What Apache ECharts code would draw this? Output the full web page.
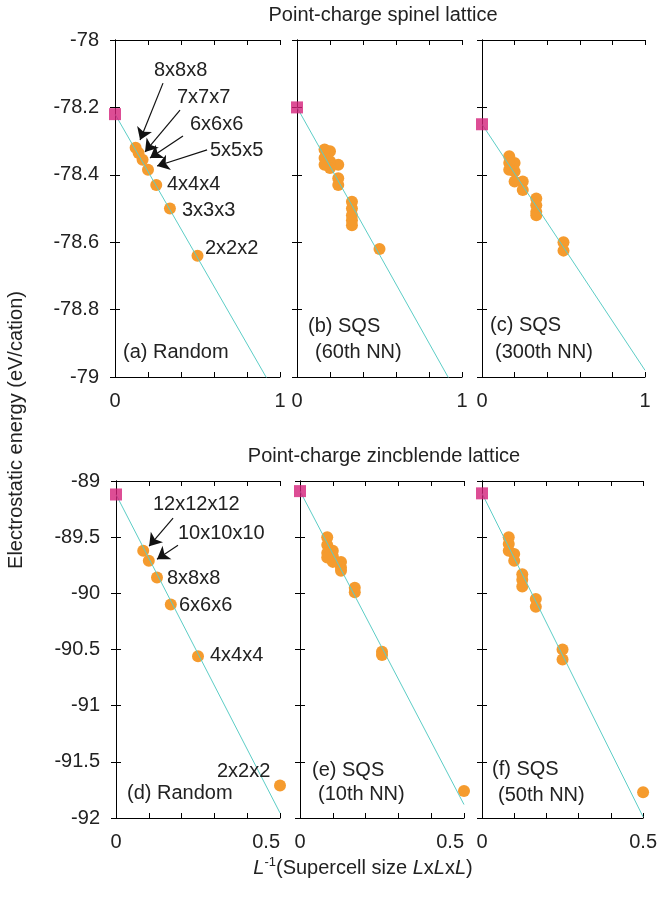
<!DOCTYPE html>
<html>
<head>
<meta charset="utf-8">
<script src="https://cdn.jsdelivr.net/npm/echarts@6/dist/echarts.min.js"></script>
<style>
    html, body { margin: 0; padding: 0; background: #fff; }
    #main { width: 660px; height: 897px; }
</style>
</head>
<body>
<div id="main"></div>
<script>
// ---- spinel lattice (top row), x = 1/L ----
const spinelRandomX = [0.5, 0.333, 0.25, 0.2, 0.167, 0.143, 0.125];
const spinelRandomE = [-78.64, -78.50, -78.43, -78.385, -78.355, -78.335, -78.32];

const sqs60X = [0.5, 0.333, 0.333, 0.333, 0.333, 0.333, 0.25, 0.25, 0.25, 0.2, 0.2, 0.2, 0.167, 0.167, 0.167];
const sqs60E = [-78.62, -78.48, -78.50, -78.52, -78.535, -78.55, -78.37, -78.41, -78.43, -78.33, -78.36, -78.38, -78.325, -78.35, -78.37];

const sqs300X = [0.5, 0.5, 0.333, 0.333, 0.333, 0.333, 0.25, 0.25, 0.2, 0.2, 0.2, 0.167, 0.167, 0.167];
const sqs300E = [-78.60, -78.625, -78.47, -78.49, -78.51, -78.52, -78.42, -78.445, -78.365, -78.39, -78.42, -78.345, -78.365, -78.385];

// infinite-size limit (x = 0) and fit line end points
const spinelLimitE = [-78.22, -78.2, -78.25];
const spinelFitEnd = [-79.072, -79.074, -78.98];

// ---- zincblende lattice (bottom row) ----
const zbRandomX = [0.5, 0.25, 0.167, 0.125, 0.1, 0.083];
const zbRandomE = [-91.71, -90.56, -90.10, -89.86, -89.71, -89.62];

const sqs10X = [0.5, 0.25, 0.25, 0.167, 0.167, 0.125, 0.125, 0.125, 0.1, 0.1, 0.1, 0.083, 0.083, 0.083, 0.083];
const sqs10E = [-91.76, -90.52, -90.55, -89.95, -89.99, -89.72, -89.77, -89.80, -89.62, -89.67, -89.72, -89.50, -89.57, -89.64, -89.68];

const sqs50X = [0.5, 0.25, 0.25, 0.167, 0.167, 0.125, 0.125, 0.125, 0.1, 0.1, 0.083, 0.083, 0.083];
const sqs50E = [-91.77, -90.50, -90.59, -90.05, -90.12, -89.83, -89.88, -89.94, -89.65, -89.71, -89.50, -89.56, -89.62];

const zbLimitE = [-89.12, -89.09, -89.11];
const zbFitEnd = [-91.955, -91.88, -91.99];

const FONT = '"Liberation Sans", Arial, Helvetica, sans-serif';
const ORANGE = '#f59b2e';
const MAGENTA = '#d4207a';
const TEAL = '#5ccdc6';

function pairs(xs, ys) {
    return xs.map(function (x, i) { return [x, ys[i]]; });
}

var chart = echarts.init(document.getElementById('main'), null, { renderer: 'canvas' });

var grids = [
    { left: 115, top: 40, width: 165, height: 337 },
    { left: 297, top: 40, width: 165, height: 337 },
    { left: 482, top: 40, width: 163, height: 337 },
    { left: 116, top: 481, width: 164, height: 337 },
    { left: 300, top: 481, width: 164, height: 337 },
    { left: 482, top: 481, width: 164, height: 337 }
];

var xAxes = [];
var yAxes = [];

function addAxes(gi, xMax, xStep, yMin, yMax, yStep, showY, alignRight) {
    var line = { lineStyle: { color: '#000', width: 1 } };
    var tick = { inside: true, length: 5, lineStyle: { color: '#000', width: 1 } };
    xAxes.push({
        gridIndex: gi, type: 'value', min: 0, max: xMax, interval: xStep, position: 'bottom',
        axisLine: line, axisTick: tick, splitLine: { show: false },
        axisLabel: {
            fontSize: 20, fontFamily: FONT, color: '#222', margin: 14,
            alignMaxLabel: alignRight ? 'right' : null,
            formatter: function (v) {
                if (Math.abs(v) < 1e-9) return '0';
                if (Math.abs(v - xMax) < 1e-9) return String(xMax);
                return '';
            }
        }
    });
    xAxes.push({
        gridIndex: gi, type: 'value', min: 0, max: xMax, interval: xStep, position: 'top',
        axisLine: line, axisTick: tick, splitLine: { show: false }, axisLabel: { show: false }
    });
    yAxes.push({
        gridIndex: gi, type: 'value', min: yMin, max: yMax, interval: yStep, position: 'left',
        axisLine: line, axisTick: tick, splitLine: { show: false },
        axisLabel: { show: showY, fontSize: 20, fontFamily: FONT, color: '#222', margin: 16 }
    });
    yAxes.push({
        gridIndex: gi, type: 'value', min: yMin, max: yMax, interval: yStep, position: 'right',
        axisLine: line, axisTick: tick, splitLine: { show: false }, axisLabel: { show: false }
    });
}

addAxes(0, 1, 0.2, -79, -78, 0.2, true, false);
addAxes(1, 1, 0.2, -79, -78, 0.2, false, false);
addAxes(2, 1, 0.2, -79, -78, 0.2, false, false);
addAxes(3, 0.5, 0.1, -92, -89, 0.5, true, true);
addAxes(4, 0.5, 0.1, -92, -89, 0.5, false, true);
addAxes(5, 0.5, 0.1, -92, -89, 0.5, false, false);

var series = [];

function addPanel(gi, xs, es, limitE, fitX, fitEnd, arrows) {
    var ax = gi * 2;
    var ay = gi * 2;
    series.push({
        type: 'scatter', xAxisIndex: ax, yAxisIndex: ay,
        data: pairs(xs, es), symbol: 'circle', symbolSize: 12,
        itemStyle: { color: ORANGE, opacity: 1 }, z: 2, clip: false,
        markLine: arrows ? {
            silent: true, symbol: ['none', 'arrow'], symbolSize: 12,
            label: { show: false }, animation: false,
            itemStyle: { color: '#111' },
            lineStyle: { color: '#111', width: 1.2, type: 'solid' },
            data: arrows.map(function (a) { return [{ coord: a[0] }, { coord: a[1] }]; })
        } : undefined
    });
    series.push({
        type: 'line', xAxisIndex: ax, yAxisIndex: ay,
        data: [[0, limitE], [fitX, fitEnd]], showSymbol: false, symbol: 'none',
        lineStyle: { color: TEAL, width: 1 }, z: 3, clip: true
    });
    series.push({
        type: 'scatter', xAxisIndex: ax, yAxisIndex: ay,
        data: [[0, limitE]], symbol: 'rect', symbolSize: 12,
        itemStyle: { color: MAGENTA }, z: 4, clip: false
    });
}

// arrows point from the size labels to the points (data coords)
var spinelArrows = [
    [[0.291, -78.128], [0.152, -78.297]],
    [[0.394, -78.208], [0.182, -78.332]],
    [[0.412, -78.285], [0.212, -78.350]],
    [[0.558, -78.326], [0.255, -78.374]]
];
var zbArrows = [
    [[0.174, -89.33], [0.101, -89.58]],
    [[0.189, -89.571], [0.125, -89.696]]
];

addPanel(0, spinelRandomX, spinelRandomE, spinelLimitE[0], 1, spinelFitEnd[0], spinelArrows);
addPanel(1, sqs60X, sqs60E, spinelLimitE[1], 1, spinelFitEnd[1]);
addPanel(2, sqs300X, sqs300E, spinelLimitE[2], 1, spinelFitEnd[2]);
addPanel(3, zbRandomX, zbRandomE, zbLimitE[0], 0.5, zbFitEnd[0], zbArrows);
addPanel(4, sqs10X, sqs10E, zbLimitE[1], 0.5, zbFitEnd[1]);
addPanel(5, sqs50X, sqs50E, zbLimitE[2], 0.5, zbFitEnd[2]);

function txt(s, x, y, align) {
    return {
        type: 'text', x: x, y: y, z: 10,
        style: { text: s, font: '20px ' + FONT, fill: '#222', align: align || 'left', verticalAlign: 'middle' }
    };
}

var graphics = [
    txt('Point-charge spinel lattice', 383, 15, 'center'),
    txt('Point-charge zincblende lattice', 384, 456, 'center'),
    txt('8x8x8', 154, 70), txt('7x7x7', 177, 97), txt('6x6x6', 190, 124), txt('5x5x5', 210, 150),
    txt('4x4x4', 167, 184), txt('3x3x3', 182, 210), txt('2x2x2', 205, 248),
    txt('(a) Random', 123, 352),
    txt('(b) SQS', 308, 326), txt('(60th NN)', 315, 352),
    txt('(c) SQS', 490, 325), txt('(300th NN)', 495, 352),
    txt('12x12x12', 153, 504), txt('10x10x10', 178, 533), txt('8x8x8', 167, 578),
    txt('6x6x6', 179, 605), txt('4x4x4', 210, 655), txt('2x2x2', 217, 771),
    txt('(d) Random', 127, 793),
    txt('(e) SQS', 312, 770), txt('(10th NN)', 318, 794),
    txt('(f) SQS', 492, 769), txt('(50th NN)', 498, 795),
    {
        type: 'text', x: 16, y: 430, rotation: Math.PI / 2, z: 10,
        style: { text: 'Electrostatic energy (eV/cation)', font: '20px ' + FONT, fill: '#222', align: 'center', verticalAlign: 'middle' }
    },
    {
        type: 'text', x: 363, y: 868, z: 10,
        style: {
            text: '{i|L}{s|-1}{n|(Supercell size }{i|L}{n|x}{i|L}{n|x}{i|L}{n|)}',
            align: 'center', verticalAlign: 'middle', fill: '#222',
            rich: {
                n: { fontSize: 20, fontFamily: FONT, fill: '#222', lineHeight: 24 },
                i: { fontSize: 20, fontFamily: FONT, fontStyle: 'italic', fill: '#222', lineHeight: 24 },
                s: { fontSize: 13, fontFamily: FONT, fill: '#222', verticalAlign: 'top', lineHeight: 24, padding: [0, 0, 10, 0] }
            }
        }
    }
];

const option = {
    animation: false,
    backgroundColor: '#fff',
    grid: grids,
    xAxis: xAxes,
    yAxis: yAxes,
    series: series,
    graphic: graphics
};
chart.setOption(option);
window.addEventListener('resize', function () {
    chart.resize();
});
</script>
</body>
</html>
